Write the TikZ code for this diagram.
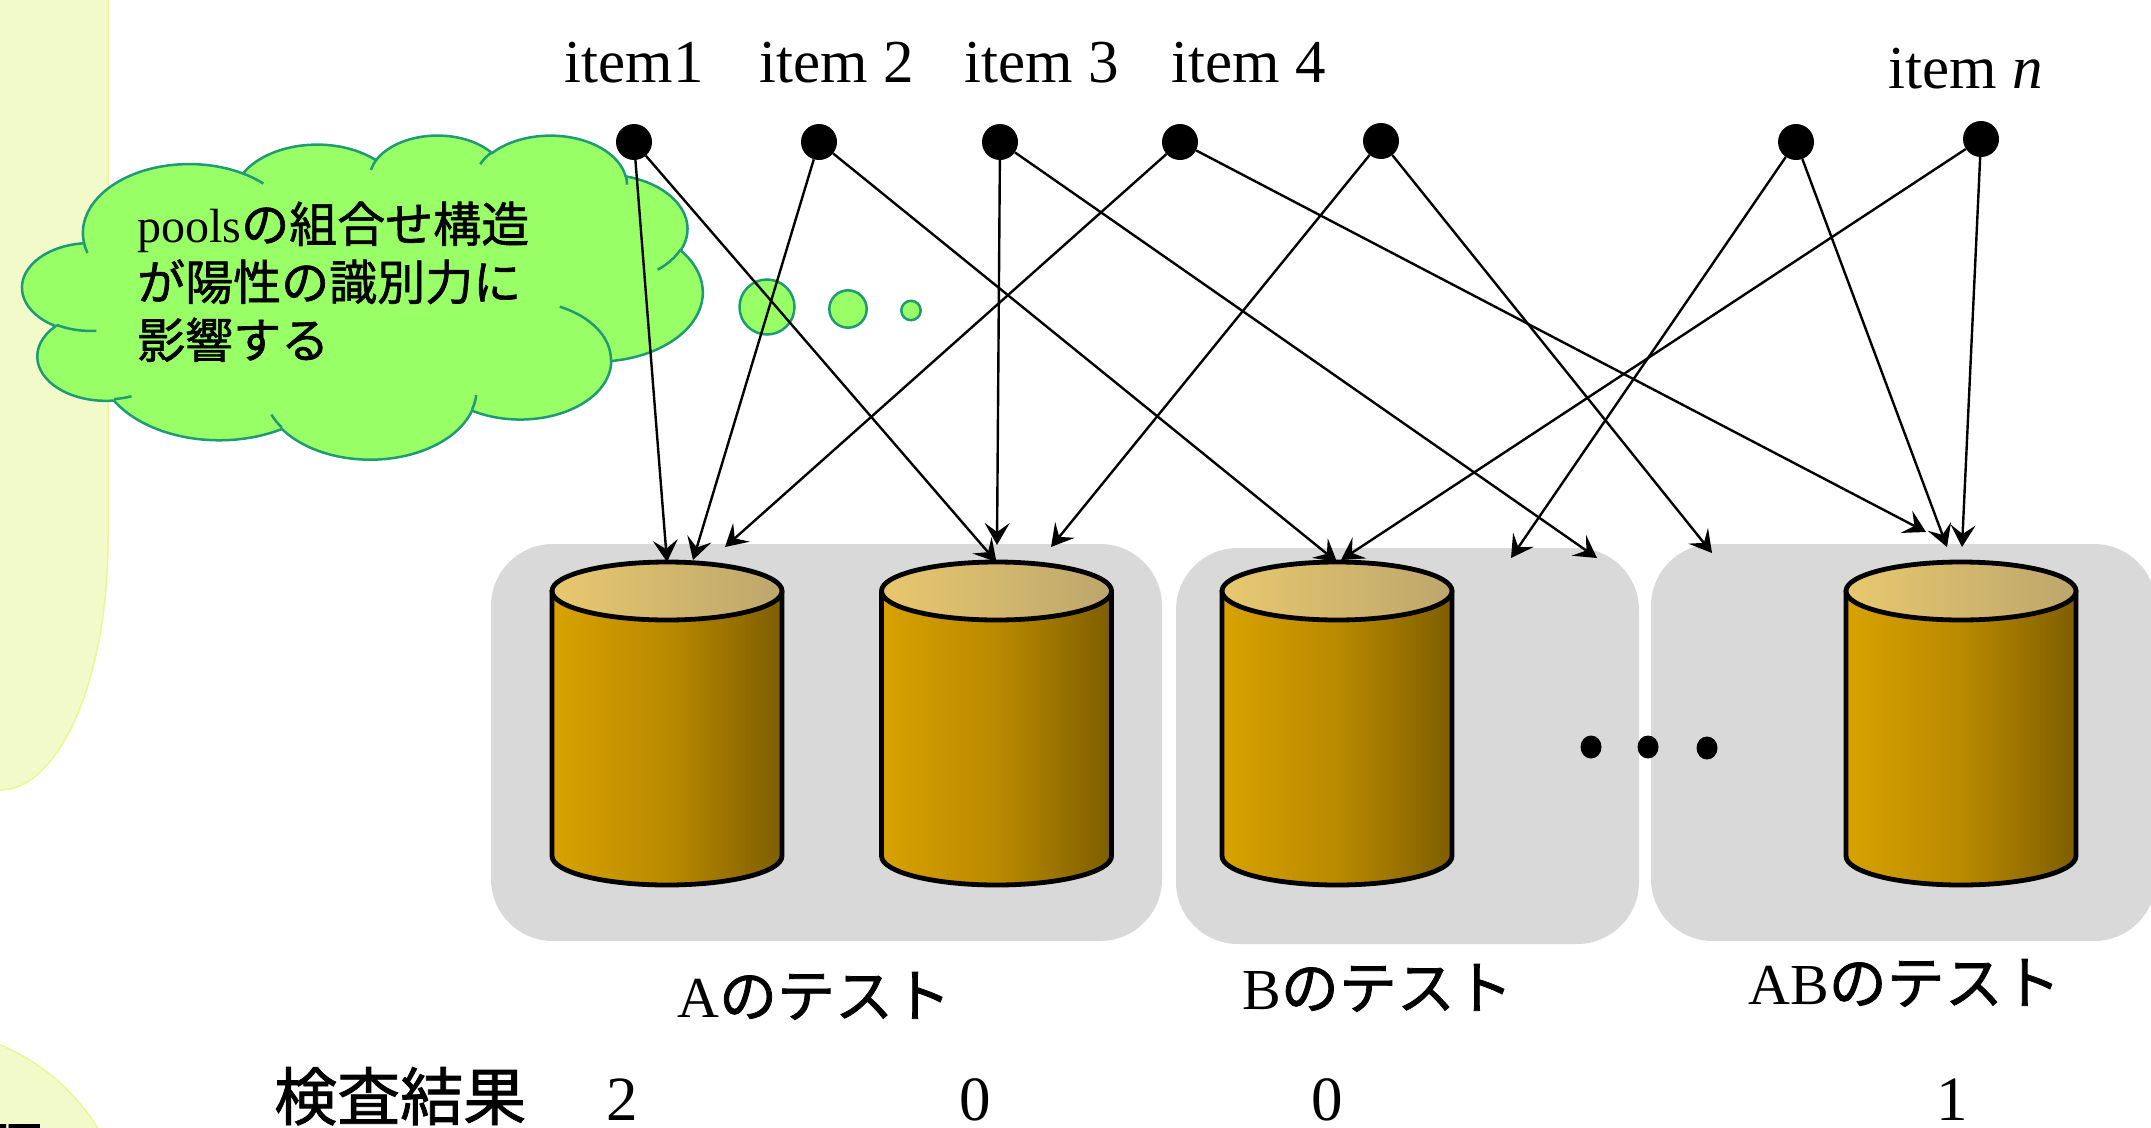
\documentclass[tikz,border=0pt]{standalone}
\usepackage{fontspec}
\setmainfont{Liberation Serif}
\newfontfamily\jpfont[RawFeature={embolden=1.3}]{Noto Sans CJK JP}
\usetikzlibrary{arrows.meta}
\pgfdeclarelayer{front}
\pgfsetlayers{main,front}

\definecolor{panelfill}{RGB}{242,250,202}
\definecolor{panelline}{RGB}{232,248,150}
\definecolor{boxgray}{RGB}{217,217,217}
\definecolor{cloudfill}{RGB}{153,255,102}
\definecolor{cloudline}{RGB}{30,155,115}
\definecolor{bodyL}{RGB}{216,162,0}
\definecolor{bodyM}{RGB}{186,138,0}
\definecolor{bodyR}{RGB}{125,94,0}
\definecolor{lidL}{RGB}{232,200,110}
\definecolor{lidR}{RGB}{188,166,108}

\newcommand\setfs[1]{\fontsize{#1}{#1}\selectfont}

% elliptical arc given by visual start angle and sweep (cloud outline geometry)
\newcommand\defarc[5]{%
  \pgfmathsetmacro\arcTs{atan2((#2)*sin(#4),(#3)*cos(#4))}%
  \pgfmathsetmacro\arcTe{atan2((#2)*sin((#4)+(#5)),(#3)*cos((#4)+(#5)))}%
  \pgfmathsetmacro\arcTe{\arcTs+(#5)+Mod(\arcTe-\arcTs-(#5)+180,360)-180}%
  \edef\arcdo{\noexpand\tikzset{#1/.style={start angle=\arcTs, end angle=\arcTe, x radius=#2, y radius=#3}}}%
  \arcdo}

% one pool drawn as a shaded cylinder; #1 names its top point
\newcommand\pool[2]{%
  \draw[cylbody] (#2-115,591) -- (#2-115,856)
     arc[start angle=180,end angle=0,x radius=115,y radius=29] -- (#2+115,591) -- cycle;
  \draw[cyllid] (#2,591) ellipse[x radius=115, y radius=29];
  \coordinate (#1) at (#2,562);}

\tikzset{
  conn/.style={line width=2.4pt, draw=black, -{Stealth[length=22pt,width=25pt,inset=9pt]}},
  itemdot/.style={circle, fill=black, minimum size=36pt, inner sep=0pt},
  itemlabel/.style={anchor=base, inner sep=0pt, font=\setfs{61}},
  testbox/.style={fill=boxgray, rounded corners=62pt},
  cylbody/.style={line width=4.8pt, draw=black, line join=round, left color=bodyL, right color=bodyR, middle color=bodyM},
  cyllid/.style={line width=4.8pt, draw=black, left color=lidL, right color=lidR},
  cloudshape/.style={fill=cloudfill, draw=cloudline, line width=2.5pt},
  cloudedge/.style={draw=cloudline, line width=2.5pt},
  cloudtext/.style={anchor=base west, inner sep=0pt, font=\setfs{48}},
  testlabel/.style={anchor=base west, inner sep=0pt, font=\setfs{58}},
  result/.style={anchor=base, inner sep=0pt, font=\setfs{63}},
}

\begin{document}
\begin{tikzpicture}[x=1pt,y=-1pt]
\useasboundingbox (0,0) rectangle (2151,1127);

% cloud outline arcs
\defarc{cl1}{67.53}{91.90}{-190.4875}{123.7805}
\defarc{cl2}{53.33}{72.67}{-144.1024}{89.9452}
\defarc{cl3}{43.65}{59.45}{-145.8079}{99.7230}
\defarc{cl4}{48.57}{65.95}{-130.9861}{117.2417}
\defarc{cl5}{53.33}{72.73}{-78.7089}{109.0269}
\defarc{cl6}{67.75}{92.20}{-46.2673}{130.2690}
\defarc{cl7}{57.85}{78.67}{0.6250}{114.0333}
\defarc{cl8}{67.52}{92.15}{22.4516}{115.1726}
\defarc{cl9}{77.20}{105.43}{66.2426}{75.7110}
\defarc{cl10}{43.60}{59.18}{-274.9421}{146.7356}
\defarc{cl11}{43.45}{59.45}{-246.8285}{152.5189}
% inner creases of the cloud
\defarc{ci1}{43.45}{59.45}{86.7420}{26.4295}
\defarc{ci2}{43.60}{59.18}{73.6105}{11.4475}
\defarc{ci3}{67.52}{92.15}{137.6242}{14.0811}
\defarc{ci4}{67.52}{92.15}{6.4533}{15.9984}
\defarc{ci5}{57.85}{78.67}{-70.2924}{70.9174}
\defarc{ci6}{53.33}{72.73}{30.3180}{27.7515}
\defarc{ci7}{48.57}{65.95}{-13.7443}{14.8589}
\defarc{ci8}{48.57}{65.95}{-149.1815}{18.1954}
\defarc{ci9}{43.65}{59.45}{-163.4943}{17.6864}
\defarc{ci10}{67.53}{91.90}{-66.7070}{12.3194}
\defarc{ci11}{67.53}{91.90}{157.6544}{11.8582}

% side panels
\path[fill=panelfill, draw=panelline, line width=1.5pt]
  (-5,-5) -- (108,-5) -- (108,540) arc[start angle=0,end angle=90,x radius=108,y radius=250] -- (-5,790) -- cycle;
\path[fill=panelfill, draw=panelline, line width=1.5pt] (-80,1238) circle[radius=209];
\node[anchor=base west, inner sep=0pt, font=\jpfont\setfs{63}] (side) at (-20,1174) {研};

% test groups
\path[testbox] (491,544) rectangle (1162,941);
\path[testbox] (1176,548) rectangle (1639,944);
\path[testbox] (1651,544) rectangle (2156,941);

\pool{pA1}{667}
\pool{pA2}{996.5}
\pool{pB1}{1337}
\pool{pAB1}{1961}

\fill (1591,747) ellipse[x radius=10.5, y radius=11.5];
\fill (1648,747) ellipse[x radius=10.5, y radius=11.5];
\fill (1707,748) ellipse[x radius=10.5, y radius=11.5];

% thought cloud
\begin{scope}[shift={(22.5,134.5)}, xscale=1.5741, yscale=0.75]
  \path[cloudshape] (39.00,143.70) arc[cl1] arc[cl2] arc[cl3] arc[cl4] arc[cl5] arc[cl6]
     arc[cl7] arc[cl8] arc[cl9] arc[cl10] arc[cl11] -- cycle;
  \path[cloudedge] (46.93,261.77) arc[ci1] (69.28,348.99) arc[ci2] (164.78,390.90) arc[ci3]
     (288.27,347.51) arc[ci4] (341.29,229.54) arc[ci5] (417.98,153.54) arc[ci6]
     (383.24,54.26) arc[ci7] (290.78,39.52) arc[ci8] (221.41,47.20) arc[ci9]
     (140.00,51.92) arc[ci10] (41.27,157.89) arc[ci11];
\end{scope}
\path[cloudshape] (767,307) circle[radius=27.5];
\path[cloudshape] (848,309) circle[radius=18.7];
\path[cloudshape] (911,310.5) circle[radius=9.7];

\node[cloudtext] (ct1) at (137,242) {pools{\jpfont の組合せ構造}};
\node[cloudtext] (ct2) at (137,300) {\jpfont が陽性の識別力に};
\node[cloudtext] (ct3) at (137,358) {\jpfont 影響する};

% item labels and dots
\node[itemlabel] (l1) at (634,82) {item1};
\node[itemlabel] (l2) at (837,82) {item 2};
\node[itemlabel] (l3) at (1042,82) {item 3};
\node[itemlabel] (l4) at (1249,82) {item 4};
\node[itemlabel] (ln) at (1966,88) {item \textit{n}};

\begin{pgfonlayer}{front}
  \node[itemdot] (i1) at (634,142) {};
  \node[itemdot] (i2) at (819,142) {};
  \node[itemdot] (i3) at (1000,142) {};
  \node[itemdot] (i4) at (1180,142) {};
  \node[itemdot] (i5) at (1381,141) {};
  \node[itemdot] (i6) at (1796,142) {};
  \node[itemdot] (in) at (1981,139) {};
\end{pgfonlayer}

% arrow ends
\coordinate (a2) at (693,560);
\coordinate (a4) at (725,547);
\coordinate (b3) at (997,545);
\coordinate (b5) at (1051,547);
\coordinate (c7) at (1341,560);
\coordinate (d6) at (1511,558);
\coordinate (d3) at (1597,558);
\coordinate (e5) at (1712,553);
\coordinate (f4) at (1926,532);
\coordinate (f6) at (1947,547);
\coordinate (f7) at (1962,547);

\draw[conn] (i1) -- (pA1);
\draw[conn] (i1) -- (pA2);
\draw[conn] (i2) -- (a2);
\draw[conn] (i2) -- (pB1);
\draw[conn] (i3) -- (b3);
\draw[conn] (i3) -- (d3);
\draw[conn] (i4) -- (a4);
\draw[conn] (i4) -- (f4);
\draw[conn] (i5) -- (b5);
\draw[conn] (i5) -- (e5);
\draw[conn] (i6) -- (d6);
\draw[conn] (i6) -- (f6);
\draw[conn] (in) -- (c7);
\draw[conn] (in) -- (f7);

% test names and results
\node[testlabel] (tA) at (677,1017) {A{\jpfont のテスト}};
\node[testlabel] (tB) at (1242,1009) {B{\jpfont のテスト}};
\node[testlabel] (tAB) at (1748,1004) {AB{\jpfont のテスト}};

\node[anchor=base west, inner sep=0pt, font=\jpfont\setfs{63}] (res) at (274,1120) {検査結果};
\node[result] (rA1) at (622,1120) {2};
\node[result] (rA2) at (975,1120) {0};
\node[result] (rB) at (1327,1120) {0};
\node[result] (rAB) at (1952,1120) {1};
\end{tikzpicture}
\end{document}
